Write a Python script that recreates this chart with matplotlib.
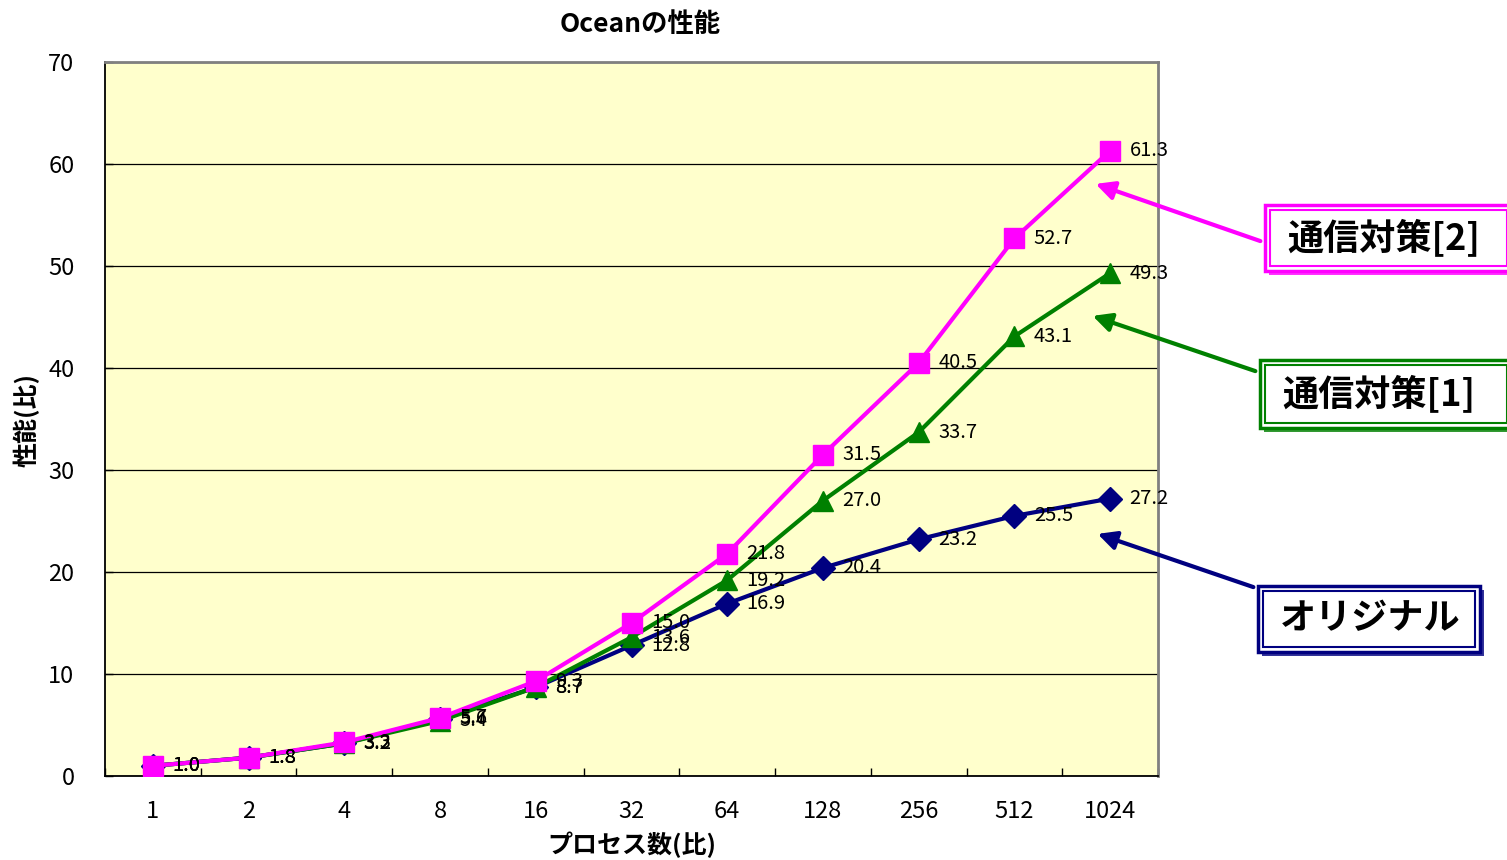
import numpy as np
import matplotlib
matplotlib.use("Agg")
from matplotlib import pyplot as plt
from matplotlib.patches import Rectangle, FancyArrowPatch

plt.rcParams['font.family'] = ['Noto Sans CJK JP', 'DejaVu Sans']

procs = ['1', '2', '4', '8', '16', '32', '64', '128', '256', '512', '1024']
original = [1.0, 1.8, 3.2, 5.6, 8.7, 12.8, 16.9, 20.4, 23.2, 25.5, 27.2]
comm1 = [1.0, 1.8, 3.2, 5.4, 8.7, 13.6, 19.2, 27.0, 33.7, 43.1, 49.3]
comm2 = [1.0, 1.8, 3.3, 5.7, 9.3, 15.0, 21.8, 31.5, 40.5, 52.7, 61.3]

W, H = 1507, 860
fig = plt.figure(figsize=(W / 100, H / 100), dpi=100)
ax = fig.add_axes([105 / W, 1 - 776 / H, (1158 - 105) / W, (776 - 62) / H])
ax.set_facecolor('#FFFFCC')

x = np.arange(len(procs))
series = [
    (original, '#000080', 'D', 12),
    (comm1, '#008000', '^', 14),
    (comm2, '#FF00FF', 's', 14),
]
for vals, col, mk, ms in series:
    ax.plot(x, vals, color=col, lw=3, marker=mk, markersize=ms, zorder=3)
for vals, col, mk, ms in series:
    for xi, v in zip(x, vals):
        ax.annotate(f'{v:.1f}', (xi, v), xytext=(14, 0), textcoords='offset points',
                    va='center', ha='left', fontsize=14.5, zorder=4)

ax.set_xlim(-0.5, len(procs) - 0.5)
ax.set_ylim(0, 70)
ax.set_yticks(range(0, 71, 10))
ax.yaxis.grid(True, color='black', lw=0.9)
ax.set_axisbelow(True)
ax.set_xticks(x)
ax.set_xticklabels(procs)
ax.set_xticks(np.arange(-0.5, len(procs), 1), minor=True)
ax.tick_params(axis='x', which='major', length=0, pad=17, labelsize=17)
ax.tick_params(axis='x', which='minor', direction='in', length=6, width=1)
ax.tick_params(axis='y', direction='in', length=6, width=1, pad=22, labelsize=17)

for s in ['left', 'bottom']:
    ax.spines[s].set_color('black')
    ax.spines[s].set_linewidth(1.3)
for s in ['top', 'right']:
    ax.spines[s].set_color('#808080')
    ax.spines[s].set_linewidth(2)

fig.text(640 / W, 1 - 25 / H, 'Oceanの性能', ha='center', va='center',
         fontsize=19, fontweight='bold')
fig.text(26 / W, 1 - 420 / H, '性能(比)', ha='center', va='center',
         rotation=90, fontsize=18, fontweight='bold')
fig.text(632 / W, 1 - 845 / H, 'プロセス数(比)', ha='center', va='center',
         fontsize=18, fontweight='bold')


def px(xp, yp):
    return (xp / W, 1 - yp / H)


def callout(label, col, box, start, end):
    x0, y0, x1, y1 = box
    # drop shadow, outer frame and inner frame
    fig.add_artist(Rectangle(px(x0 + 4, y1 + 4), (x1 - x0) / W, (y1 - y0) / H,
                             transform=fig.transFigure, facecolor=col,
                             edgecolor='none', alpha=0.8, zorder=5))
    fig.add_artist(Rectangle(px(x0, y1), (x1 - x0) / W, (y1 - y0) / H,
                             transform=fig.transFigure, facecolor='white',
                             edgecolor=col, lw=2.5, zorder=6))
    fig.add_artist(Rectangle(px(x0 + 5, y1 - 5), (x1 - x0 - 10) / W, (y1 - y0 - 10) / H,
                             transform=fig.transFigure, facecolor='none',
                             edgecolor=col, lw=1.5, zorder=7))
    fig.text((x0 + 22) / W, 1 - (y0 + y1) / 2 / H, label, ha='left', va='center',
             fontsize=26, fontweight='bold', zorder=8)
    fig.add_artist(FancyArrowPatch(px(*start), px(*end), transform=fig.transFigure,
                                   arrowstyle='-|>', mutation_scale=28, lw=3,
                                   color=col, zorder=5))


callout('通信対策[2]', '#FF00FF', (1265, 205, 1512, 271), (1263, 242), (1093, 183))
callout('通信対策[1]', '#008000', (1260, 360, 1512, 428), (1258, 372), (1090, 315))
callout('オリジナル', '#000080', (1258, 586, 1480, 652), (1256, 588), (1095, 533))

fig.savefig('out.png', dpi=100)
